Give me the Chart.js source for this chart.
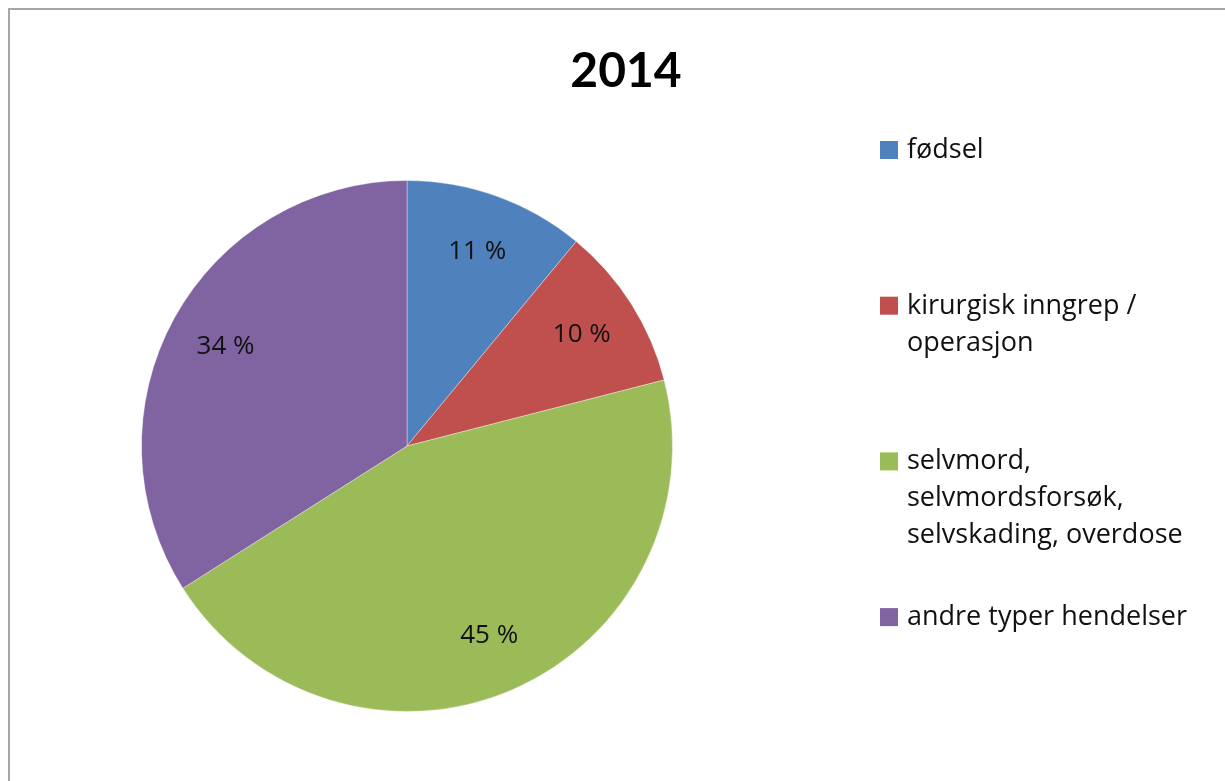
<!DOCTYPE html>
<html>
<head>
<meta charset="utf-8">
<script src="https://cdn.jsdelivr.net/npm/chart.js@4/dist/chart.umd.min.js"></script>
<style>
    html, body { margin: 0; padding: 0; background: #fff; }
    #wrap { position: relative; width: 1225px; height: 781px; }
</style>
</head>
<body>
<div id="wrap"><canvas id="pieChart"></canvas></div>
<script>
// Data
const chartTitle = '2014';
const categories = [
    ['fødsel'],
    ['kirurgisk inngrep /', 'operasjon'],
    ['selvmord,', 'selvmordsforsøk,', 'selvskading, overdose'],
    ['andre typer hendelser']
];
const shares = [11, 10, 45, 34];
const sliceColors = ['#4F81BD', '#C0504D', '#9BBB59', '#8064A2'];

const FONT = 'Lato, "Open Sans", sans-serif';
const TEXT_FONT = '"Open Sans", Lato, sans-serif';

// Frame, title, slice labels and the side legend
const decorPlugin = {
    id: 'decor',
    beforeDraw(chart) {
        const ctx = chart.ctx;
        ctx.save();
        ctx.fillStyle = '#fff';
        ctx.fillRect(0, 0, chart.width, chart.height);
        ctx.strokeStyle = '#a6a6a6';
        ctx.lineWidth = 2;
        ctx.beginPath();
        ctx.moveTo(9, chart.height + 5);
        ctx.lineTo(9, 9);
        ctx.lineTo(chart.width + 5, 9);
        ctx.stroke();
        ctx.restore();
    },
    afterDraw(chart) {
        const ctx = chart.ctx;
        ctx.save();

        // title
        ctx.fillStyle = '#000';
        ctx.font = 'bold 48px ' + FONT;
        ctx.textAlign = 'center';
        ctx.textBaseline = 'alphabetic';
        ctx.fillText(chartTitle, 626, 87);

        // percentage labels inside the slices
        const meta = chart.getDatasetMeta(0);
        ctx.font = '500 26px ' + TEXT_FONT;
        ctx.fillStyle = '#111';
        ctx.textBaseline = 'middle';
        meta.data.forEach((arc, i) => {
            const p = arc.getProps(['x', 'y', 'startAngle', 'endAngle', 'outerRadius'], true);
            const mid = (p.startAngle + p.endAngle) / 2;
            const r = p.outerRadius * 0.78;
            ctx.fillText(shares[i] + ' %', p.x + Math.cos(mid) * r, p.y + Math.sin(mid) * r);
        });

        // legend
        ctx.textAlign = 'left';
        ctx.textBaseline = 'alphabetic';
        ctx.font = '500 27px ' + TEXT_FONT;
        const firstBase = 158, step = 155.7, lineH = 37;
        categories.forEach((lines, i) => {
            const base = firstBase + i * step;
            ctx.fillStyle = sliceColors[i];
            ctx.fillRect(880, base - 17, 18, 18);
            ctx.fillStyle = '#111';
            lines.forEach((t, j) => ctx.fillText(t, 907, base + j * lineH, 292));
        });

        ctx.restore();
    }
};

const ctx = document.getElementById('pieChart').getContext('2d');
new Chart(ctx, {
    type: 'pie',
    data: {
        labels: categories,
        datasets: [{
            data: shares,
            backgroundColor: sliceColors,
            borderColor: 'rgba(255,255,255,0.35)',
            borderWidth: 1
        }]
    },
    options: {
        responsive: true,
        maintainAspectRatio: false,
        animation: false,
        layout: {
            padding: { left: 141, right: 552, top: 180, bottom: 69 }
        },
        plugins: {
            legend: { display: false },
            title: { display: false },
            tooltip: { enabled: false }
        }
    },
    plugins: [decorPlugin]
});
</script>
</body>
</html>
